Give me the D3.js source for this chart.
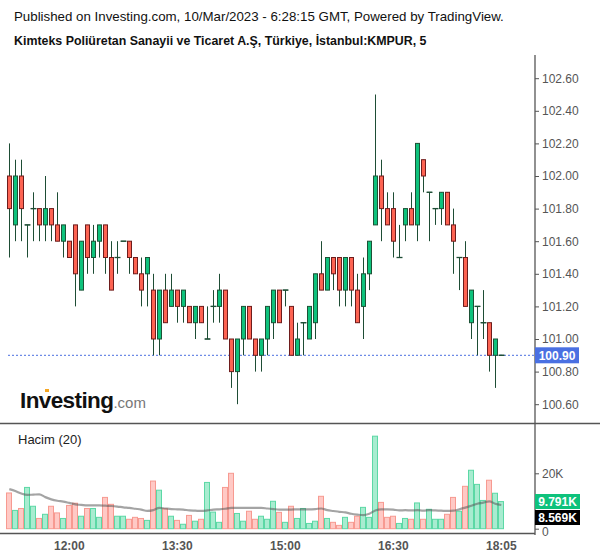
<!DOCTYPE html>
<html><head><meta charset="utf-8">
<script src="https://cdn.jsdelivr.net/npm/d3@7"></script>
<style>body{margin:0;background:#fff}svg{display:block}text{font-family:"Liberation Sans",Arial,sans-serif}</style>
</head><body><svg id="c" width="600" height="558"></svg>
<script>
const times = ["11:10","11:15","11:20","11:25","11:30","11:35","11:40","11:45","11:50","11:55",
"12:00","12:05","12:10","12:15","12:20","12:25","12:30","12:35","12:40","12:45","12:50","12:55",
"13:00","13:05","13:10","13:15","13:20","13:25","13:30","13:35","13:40","13:45","13:50","13:55",
"14:00","14:05","14:10","14:15","14:20","14:25","14:30","14:35","14:40","14:45","14:50","14:55",
"15:00","15:05","15:10","15:15","15:20","15:25","15:30","15:35","15:40","15:45","15:50","15:55",
"16:00","16:05","16:10","16:15","16:20","16:25","16:30","16:35","16:40","16:45","16:50","16:55",
"17:00","17:05","17:10","17:15","17:20","17:25","17:30","17:35","17:40","17:45","17:50","17:55","18:05"];
const open  = [102.0,101.7,102.0,101.7,101.8,101.8,101.7,101.8,101.7,101.6,101.6,101.7,101.3,101.7,101.5,101.6,101.7,101.5,101.5,101.6,101.6,101.5,101.4,101.4,101.3,101.0,101.3,101.2,101.3,101.2,101.2,101.1,101.2,101.0,101.2,101.2,101.3,101.0,100.8,101.0,101.2,101.0,100.9,101.0,101.1,101.3,101.3,101.2,100.9,101.1,101.0,101.1,101.4,101.3,101.5,101.5,101.3,101.5,101.3,101.2,101.4,101.7,102.0,101.8,101.8,101.5,101.7,101.8,101.7,102.1,101.9,101.8,101.8,101.9,101.7,101.5,101.5,101.1,101.2,101.1,101.1,100.9,100.9];
const high  = [102.2,102.1,102.1,101.7,101.9,101.8,102.0,101.8,101.9,101.7,101.6,101.7,101.6,101.7,101.7,101.7,101.7,101.6,101.6,101.6,101.6,101.5,101.5,101.5,101.4,101.3,101.4,101.4,101.3,101.3,101.2,101.2,101.2,101.2,101.3,101.4,101.3,101.0,101.0,101.2,101.2,101.0,101.0,101.2,101.3,101.3,101.3,101.2,101.1,101.1,101.2,101.4,101.6,101.5,101.5,101.5,101.5,101.5,101.4,101.5,101.6,102.5,102.1,101.9,101.9,101.7,101.8,101.9,102.2,102.1,101.9,101.8,101.9,101.9,101.8,101.5,101.6,101.3,101.2,101.3,101.1,101.0,100.9];
const low   = [101.5,101.6,101.6,101.5,101.6,101.6,101.6,101.6,101.6,101.5,101.5,101.2,101.3,101.4,101.4,101.5,101.4,101.3,101.4,101.6,101.4,101.4,101.2,101.2,100.9,100.9,101.1,101.2,101.1,101.1,101.1,101.0,101.1,101.0,101.1,101.1,101.0,100.7,100.6,100.9,101.0,100.8,100.8,100.9,101.0,101.1,101.2,100.9,100.9,100.9,101.0,101.0,101.3,101.3,101.3,101.2,101.2,101.2,101.1,101.0,101.3,101.7,101.6,101.7,101.5,101.5,101.6,101.7,101.6,101.9,101.6,101.7,101.7,101.7,101.4,101.3,101.2,101.0,100.9,101.0,100.8,100.7,100.9];
const close = [101.8,102.0,101.8,101.7,101.8,101.7,101.8,101.7,101.6,101.7,101.5,101.4,101.6,101.5,101.6,101.7,101.5,101.3,101.5,101.6,101.5,101.4,101.3,101.5,101.0,101.3,101.1,101.3,101.2,101.3,101.1,101.2,101.1,101.0,101.2,101.3,101.0,100.8,101.0,101.2,101.0,100.9,101.0,101.2,101.3,101.1,101.3,100.9,101.0,101.1,101.2,101.4,101.3,101.5,101.4,101.3,101.5,101.3,101.1,101.4,101.6,102.0,101.8,101.7,101.6,101.5,101.8,101.7,102.2,102.0,101.9,101.8,101.9,101.7,101.6,101.5,101.2,101.3,101.2,101.1,100.9,101.0,100.9];
const volume = [12.9,6.6,7.3,14.9,8.1,3.7,5.2,8.1,5.7,3.7,8.4,9.2,4.5,7.3,7.3,4.1,11.3,8.8,4.5,4.5,3.4,4.1,3.7,3.0,17.2,13.9,7.2,4.5,3.0,1.6,4.8,2.7,3.4,16.7,6.0,2.3,14.9,20.0,5.5,2.7,6.3,3.4,4.5,3.4,9.9,5.9,2.3,8.1,3.7,7.3,1.9,2.7,11.7,3.7,2.3,1.2,4.1,2.3,4.5,7.7,4.1,33.4,9.5,4.1,4.5,1.9,3.7,3.4,9.3,3.4,7.0,3.4,3.4,5.2,11.3,6.3,15.3,21.1,16.0,10.2,17.5,12.8,9.791];
const volumeMA = [14.3,13.6,12.7,12.2,12.3,12.4,11.4,10.6,10.1,9.8,9.3,8.8,8.6,8.4,8.4,8.4,8.3,8.2,8.0,7.7,7.5,7.2,6.9,6.4,6.7,7.5,7.3,7.1,7.0,6.9,6.6,6.5,6.4,6.6,6.9,7.0,7.2,7.5,7.5,7.5,7.5,7.5,7.5,7.3,7.1,6.9,6.9,6.9,7.0,7.0,7.0,7.1,7.3,6.7,6.4,6.1,5.9,5.4,5.1,4.9,5.4,6.6,7.0,7.0,6.9,6.6,6.7,6.6,6.7,6.5,6.7,6.6,6.5,6.4,6.5,7.0,7.6,8.3,9.0,9.4,9.9,9.0,8.569];
const timeTicks = ["12:00","13:30","15:00","16:30","18:05"];
const priceTicks = [100.6,100.8,101.0,101.2,101.4,101.6,101.8,102.0,102.2,102.4,102.6];
const volTicks = [0,20];
const lastPrice = 100.90;

const svg = d3.select("#c");
const AX = 535;
const x = d3.scaleBand().domain(times).range([6.3, 6.3 + 6*times.length]).padding(0);
const y = d3.scaleLinear().domain([100.6, 102.6]).range([404.2, 78.2]);
const yv = d3.scaleLinear().domain([0, 20]).range([528.7, 473.3]);

// titles
svg.append("text").attr("x",14).attr("y",21).attr("font-size","13.3px").attr("fill","#111")
  .text("Published on Investing.com, 10/Mar/2023 - 6:28:15 GMT, Powered by TradingView.");
svg.append("text").attr("x",14).attr("y",45).attr("font-size","12.4px").attr("font-weight","bold").attr("fill","#111")
  .text("Kimteks Poliüretan Sanayii ve Ticaret A.Ş, Türkiye, İstanbul:KMPUR, 5");

// axes lines
svg.append("line").attr("x1",AX).attr("x2",AX).attr("y1",55).attr("y2",535).attr("stroke","#555").attr("stroke-width",1.3);
svg.append("line").attr("x1",0).attr("x2",600).attr("y1",423.5).attr("y2",423.5).attr("stroke","#555").attr("stroke-width",1.3);
svg.append("line").attr("x1",0).attr("x2",AX).attr("y1",533.5).attr("y2",533.5).attr("stroke","#555").attr("stroke-width",1.3);

// price axis
const pa = d3.axisRight(y).tickValues(priceTicks).tickFormat(d3.format(".2f")).tickSize(4).tickPadding(3);
const pg = svg.append("g").attr("transform",`translate(${AX},0)`).call(pa);
pg.select(".domain").remove();
pg.selectAll("line").attr("stroke","#555");
pg.selectAll("text").attr("fill","#555").attr("font-size","12px").style("font-family","Liberation Sans, Arial, sans-serif");

// volume axis
const va = d3.axisRight(yv).tickValues(volTicks).tickFormat(d => d===0 ? "0" : d+"K").tickSize(4).tickPadding(3);
const vg = svg.append("g").attr("transform",`translate(${AX},0)`).call(va);
vg.select(".domain").remove();
vg.selectAll("line").attr("stroke","#555");
vg.selectAll("text").attr("fill","#555").attr("font-size","12px").style("font-family","Liberation Sans, Arial, sans-serif");
vg.selectAll(".tick").filter(d=>d===0).select("text").attr("dy","0.62em").attr("y",-1);

// time axis
const ta = d3.axisBottom(x).tickValues(timeTicks).tickSize(0).tickPadding(8);
const tg = svg.append("g").attr("transform","translate(0,533)").call(ta);
tg.select(".domain").remove();
tg.selectAll("text").attr("fill","#555").attr("font-size","12px").attr("font-weight","bold").style("font-family","Liberation Sans, Arial, sans-serif");

// logo
const logo = svg.append("text").attr("x",20).attr("y",408);
logo.append("tspan").text("Investing").attr("font-size","22.5px").attr("font-weight","bold").attr("fill","#111").attr("letter-spacing","-0.6");
logo.append("tspan").text(".com").attr("font-size","15px").attr("fill","#777");
svg.append("rect").attr("x",45).attr("y",389).attr("width",4).attr("height",3).attr("fill","#f5a623");

// last price dashed line
svg.append("line").attr("x1",8).attr("x2",AX).attr("y1",y(lastPrice)).attr("y2",y(lastPrice))
  .attr("stroke","#4a6ee0").attr("stroke-dasharray","2,2").attr("stroke-width",1);

const idx = d3.range(times.length);
const cx = i => x(times[i]) + x.bandwidth()/2;
const up = i => close[i] >= open[i];

// wicks
svg.append("g").selectAll("line").data(idx).join("line")
  .attr("x1",i=>Math.round(cx(i))+0.5).attr("x2",i=>Math.round(cx(i))+0.5)
  .attr("y1",i=>y(high[i])).attr("y2",i=>y(low[i]))
  .attr("stroke","#1e4d35").attr("stroke-width",1);
// bodies
svg.append("g").selectAll("rect").data(idx).join("rect")
  .attr("x",i=>Math.round(cx(i))-1.5).attr("width",4)
  .attr("y",i=>y(Math.max(open[i],close[i])))
  .attr("height",i=>Math.max(0.01, y(Math.min(open[i],close[i])) - y(Math.max(open[i],close[i]))))
  .attr("fill",i=>up(i)?"#0ec27c":"#fd6352")
  .attr("stroke",i=>up(i)?"#1c5236":"#6e1c1c").attr("stroke-width",1);
// doji ticks
svg.append("g").selectAll("line").data(idx.filter(i=>open[i]===close[i])).join("line")
  .attr("x1",i=>Math.round(cx(i))-2.5).attr("x2",i=>Math.round(cx(i))+3.5)
  .attr("y1",i=>y(close[i])).attr("y2",i=>y(close[i]))
  .attr("stroke","#1e4d35").attr("stroke-width",1.3);

// price label
svg.append("rect").attr("x",AX).attr("y",y(lastPrice)-8).attr("width",44).attr("height",16).attr("fill","#4a70e2");
svg.append("text").attr("x",AX+22).attr("y",y(lastPrice)+4.5).attr("text-anchor","middle").attr("fill","#fff")
  .attr("font-size","12px").attr("font-weight","bold").text(lastPrice.toFixed(2));

// volume pane
svg.append("text").attr("x",18).attr("y",444).attr("font-size","13px").attr("fill","#222").text("Hacim (20)");
svg.append("g").selectAll("rect").data(idx).join("rect")
  .attr("x",i=>Math.round(cx(i))-2.5).attr("width",5)
  .attr("y",i=>yv(volume[i])).attr("height",i=>yv(0)-yv(volume[i]))
  .attr("fill",i=>up(i)?"#a8ecd0":"#ffc9c5")
  .attr("stroke",i=>up(i)?"#5cd8a5":"#f79a91").attr("stroke-width",1);
svg.append("path").datum(idx)
  .attr("d", d3.line().x(i=>cx(i)).y(i=>yv(volumeMA[i])).curve(d3.curveMonotoneX))
  .attr("fill","none").attr("stroke","rgba(90,90,90,0.55)").attr("stroke-width",2.2);

// volume labels
const lastV = volume[volume.length-1], lastMA = volumeMA[volumeMA.length-1];
svg.append("rect").attr("x",AX).attr("y",494).attr("width",45).attr("height",15).attr("fill","#0ec27c");
svg.append("text").attr("x",AX+22.5).attr("y",505.5).attr("text-anchor","middle").attr("fill","#fff")
  .attr("font-size","12px").attr("font-weight","bold").text(lastV.toFixed(3)+"K");
svg.append("rect").attr("x",AX).attr("y",510).attr("width",45).attr("height",15).attr("fill","#000");
svg.append("text").attr("x",AX+22.5).attr("y",521.5).attr("text-anchor","middle").attr("fill","#fff")
  .attr("font-size","12px").attr("font-weight","bold").text(lastMA.toFixed(3)+"K");
</script></body></html>
